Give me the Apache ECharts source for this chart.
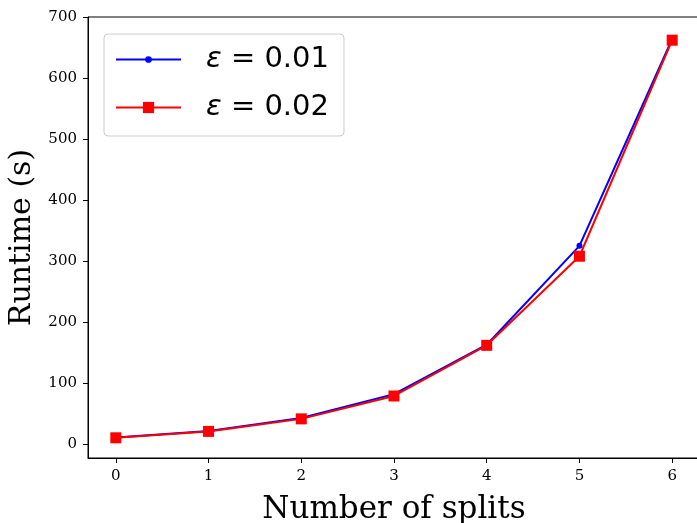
<!DOCTYPE html>
<html><head><meta charset="utf-8">
<script src="https://cdn.jsdelivr.net/npm/echarts@6/dist/echarts.min.js"></script>
<style>html,body{margin:0;padding:0;background:#fff}#c{width:697px;height:523px}</style>
</head><body><div id="c"></div>
<script>
const splits = [0, 1, 2, 3, 4, 5, 6];
const eps001 = [11, 21.5, 43, 82, 163, 325, 664];
const eps002 = [10.5, 21, 41.5, 79, 162, 308, 662];
const xTicks = [0, 1, 2, 3, 4, 5, 6];
const yTicks = [0, 100, 200, 300, 400, 500, 600, 700];
const seriesNames = ['ε = 0.01', 'ε = 0.02'];

const chart = echarts.init(document.getElementById('c'), null, {renderer: 'canvas'});
const tickFont = {fontFamily: 'DejaVu Serif', fontSize: 15, color: '#000'};
const smallDot = 'path://M0,0M10,10M2,5A3,3 0 1 0 8,5A3,3 0 1 0 2,5Z';
chart.setOption({
  animation: false,
  backgroundColor: '#fff',
  grid: {left: 88, top: 17, width: 612, height: 441, show: true, borderColor: '#000', borderWidth: 1,
         containLabel: false, outerBoundsMode: 'none'},
  xAxis: {
    type: 'value', min: -0.3, max: 6.3,
    name: 'Number of splits', nameLocation: 'middle', nameGap: 36,
    nameTextStyle: {fontFamily: 'DejaVu Serif', fontSize: 31, color: '#000'},
    axisLine: {show: true, onZero: false, lineStyle: {color: '#000', width: 1}},
    axisTick: {show: true, length: 5, customValues: xTicks, lineStyle: {color: '#000'}},
    axisLabel: Object.assign({customValues: xTicks, margin: 11}, tickFont),
    splitLine: {show: false}
  },
  yAxis: {
    type: 'value', min: -22.6, max: 700,
    name: 'Runtime (s)', nameLocation: 'middle', nameGap: 51,
    nameTextStyle: {fontFamily: 'DejaVu Serif', fontSize: 30, color: '#000'},
    axisLine: {show: true, onZero: false, lineStyle: {color: '#000', width: 1}},
    axisTick: {show: true, length: 5, customValues: yTicks, lineStyle: {color: '#000'}},
    axisLabel: Object.assign({customValues: yTicks, margin: 11}, tickFont),
    splitLine: {show: false}
  },
  legend: {
    orient: 'vertical', left: 104, top: 34,
    padding: [11, 15, 14, 11],
    itemGap: 19, itemWidth: 65, itemHeight: 14,
    borderColor: '#cccccc', borderWidth: 1, borderRadius: 4,
    backgroundColor: 'rgba(255,255,255,0.8)',
    textStyle: {fontFamily: 'DejaVu Sans', fontSize: 29, color: '#000', padding: [0, 0, 0, 20],
      rich: {e: {fontFamily: 'DejaVu Sans', fontStyle: 'italic', fontSize: 29, color: '#000'},
             t: {fontFamily: 'DejaVu Sans', fontSize: 29, color: '#000'}}},
    formatter: function (n) { return '{e|ε}{t|' + n.slice(1) + '}'; },
    data: seriesNames
  },
  series: [
    {name: seriesNames[0], type: 'line', data: splits.map((x, i) => [x, eps001[i]]),
     color: '#0000ff', lineStyle: {width: 2, color: '#0000ff'}, symbol: smallDot, symbolSize: 10,
     itemStyle: {color: '#0000ff'}, z: 2},
    {name: seriesNames[1], type: 'line', data: splits.map((x, i) => [x, eps002[i]]),
     color: '#ff0000', lineStyle: {width: 2, color: '#ff0000'}, symbol: 'rect', symbolSize: 11,
     itemStyle: {color: '#ff0000'}, z: 3}
  ]
});
</script></body></html>
